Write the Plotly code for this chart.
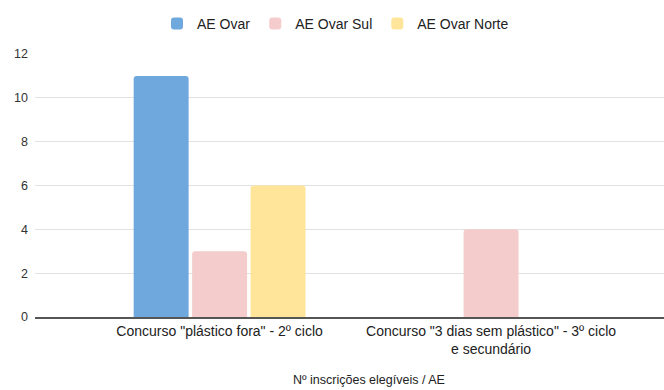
import plotly.graph_objects as go

categories = ['Concurso "plástico fora" - 2º ciclo',
              'Concurso "3 dias sem plástico" - 3º ciclo<br>e secundário']
series_names = ["AE Ovar", "AE Ovar Sul", "AE Ovar Norte"]
ae_ovar = [11, 0]
ae_ovar_sul = [3, 4]
ae_ovar_norte = [6, 0]
colors = ["#6fa8dc", "#f4cccc", "#ffe599"]
y_ticks = [0, 2, 4, 6, 8, 10, 12]
x_title = "Nº inscrições elegíveis / AE"

FONT = "Liberation Sans, Arial, sans-serif"

fig = go.Figure()
for name, vals, col in zip(series_names, [ae_ovar, ae_ovar_sul, ae_ovar_norte], colors):
    fig.add_trace(go.Bar(name=name, x=categories, y=vals, marker_color=col,
                         marker_line_width=0))

fig.update_layout(
    width=664, height=390,
    margin=dict(l=35, r=0, t=54, b=73),
    paper_bgcolor="white", plot_bgcolor="white",
    barmode="group", bargap=0.354, bargroupgap=0.06,
    barcornerradius=3,
    font=dict(family=FONT, size=12, color="#333333"),
    showlegend=True,
    legend=dict(orientation="h", xref="container", yref="container",
                x=157/664, xanchor="left", y=1-24/390, yanchor="middle",
                font=dict(size=14, color="#222222"),
                itemclick=False, traceorder="normal"),
    xaxis=dict(type="category", range=[-0.68, 1.637], showgrid=False,
               showline=True, linecolor="#555555", linewidth=1.5,
               ticks="", tickfont=dict(size=14, color="#222222")),
    yaxis=dict(range=[0, 12], tickvals=y_ticks, showgrid=True,
               gridcolor="#e2e2e2", gridwidth=1, zeroline=False,
               ticks="", ticklabelstandoff=6,
               tickfont=dict(size=12.5, color="#333333")),
    annotations=[dict(text=x_title, xref="paper", yref="paper",
                      x=(369-35)/629, y=(317-380)/263, xanchor="center", yanchor="middle",
                      showarrow=False, font=dict(size=12.5, color="#222222"))],
)

fig.write_html("out.html")
